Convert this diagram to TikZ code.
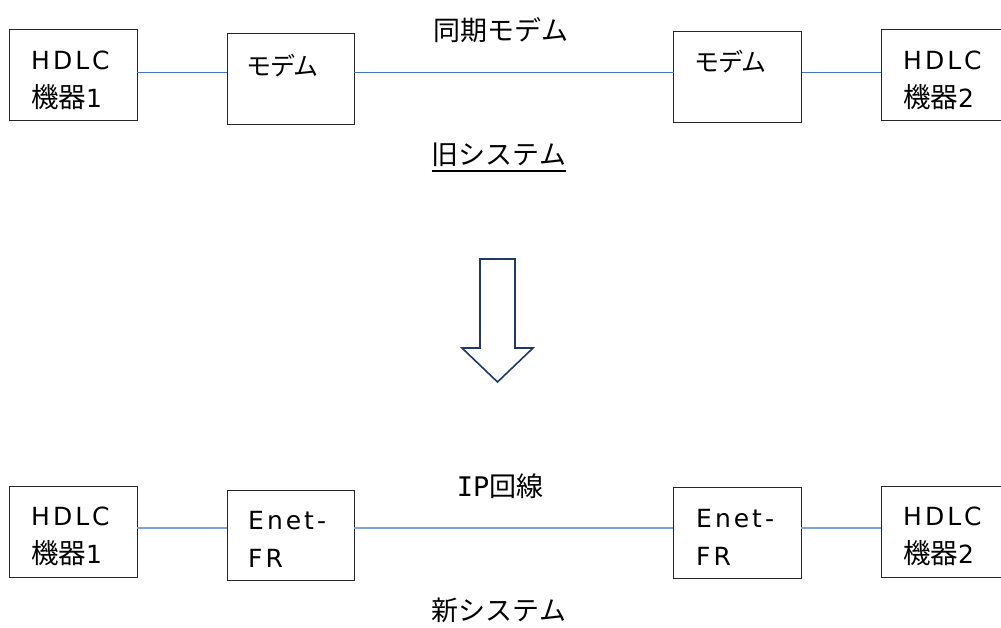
\documentclass[tikz,border=0pt]{standalone}
\usepackage{fontspec}
\setmainfont{Noto Sans CJK JP}
\newfontfamily\boxcjk[RawFeature=+palt]{Noto Sans CJK JP}
\newfontfamily\latfam[LetterSpace=12]{DejaVu Sans}
\newfontfamily\kanjifam{Noto Sans CJK JP}
\newfontfamily\lblfont{Noto Sans CJK JP}
\newfontfamily\lblmono{DejaVu Sans Mono}
\newcommand\boxlat[1]{{\latfam #1}}
\newcommand\boxkanji[1]{{\kanjifam\fontsize{27.5}{38}\selectfont #1}}
\definecolor{boxline}{HTML}{262626}
\definecolor{wiretop}{HTML}{4472C4}
\definecolor{wirebot}{HTML}{7FA0D8}
\definecolor{arrownavy}{HTML}{1F3864}
\tikzset{
  devbox/.style={draw=boxline, line width=1pt, inner sep=0pt, outer sep=0pt,
    minimum width=128pt, minimum height=91pt},
  btxt/.style={anchor=base west, inner sep=0pt, align=left,
    font=\boxcjk\fontsize{25}{38}\selectfont},
  lbl/.style={inner sep=0pt, font=\lblfont\fontsize{27}{30}\selectfont},
  wireT/.style={draw=wiretop, line width=0.9pt},
  wireB/.style={draw=wirebot, line width=1.2pt},
  bigarrow/.style={draw=arrownavy, line width=1.6pt, fill=white, line join=miter}
}
\begin{document}
\begin{tikzpicture}[x=1pt, y=-1pt]
\useasboundingbox (0,0) rectangle (1001,627);
\fill[white] (0,0) rectangle (1001,627);

% coordinates for the wire heights
\coordinate (ytop) at (0,72);
\coordinate (ybot) at (0,528);
\coordinate (uline) at (0,171);

% ---- old system ----
\node[devbox] (h1) at (73,74.5) {};
\node[devbox, minimum width=127pt] (m1) at (290.5,78.5) {};
\node[devbox] (m2) at (737.5,76.5) {};
\node[devbox] (h2) at (945,75) {};

% base anchor = baseline of the last line
\node[btxt] (h1t) at (31,107) {\boxlat{HDLC}\\\boxkanji{機器}\boxlat{1}};
\node[btxt] (m1t) at (247,75) {モデム};
\node[btxt] (m2t) at (695,71) {モデム};
\node[btxt] (h2t) at (903,107) {\boxlat{HDLC}\\\boxkanji{機器}\boxlat{2}};

\draw[wireT] (h1.east |- ytop) -- (m1.west |- ytop);
\draw[wireT] (m1.east |- ytop) -- (m2.west |- ytop);
\draw[wireT] (m2.east |- ytop) -- (h2.west |- ytop);

\node[lbl] (sync) at (501,30) {同期モデム};
\node[lbl] (old) at (499,155) {旧システム};
\draw[line width=1.5pt, black] (old.west |- uline) -- (old.east |- uline);

% ---- arrow ----
\draw[bigarrow] (480,259) -- (515,259) -- (515,348) -- (533,348) -- (497.5,382)
  -- (462,348) -- (480,348) -- cycle;

% ---- new system ----
\node[devbox] (h3) at (73,531.5) {};
\node[devbox, minimum width=127pt, minimum height=90pt] (e1) at (290.5,535) {};
\node[devbox] (e2) at (737,532.5) {};
\node[devbox] (h4) at (945,531.5) {};

\node[btxt] (h3t) at (31,563) {\boxlat{HDLC}\\\boxkanji{機器}\boxlat{1}};
\node[btxt] (e1t) at (248,567) {\boxlat{Enet-}\\\boxlat{FR}};
\node[btxt] (e2t) at (696,565) {\boxlat{Enet-}\\\boxlat{FR}};
\node[btxt] (h4t) at (903,563) {\boxlat{HDLC}\\\boxkanji{機器}\boxlat{2}};

\draw[wireB] (h3.east |- ybot) -- (e1.west |- ybot);
\draw[wireB] (e1.east |- ybot) -- (e2.west |- ybot);
\draw[wireB] (e2.east |- ybot) -- (h4.west |- ybot);

\node[lbl] (ip) at (500,486) {{\lblmono IP}回線};
\node[lbl] (new) at (499,610) {新システム};
\end{tikzpicture}
\end{document}
